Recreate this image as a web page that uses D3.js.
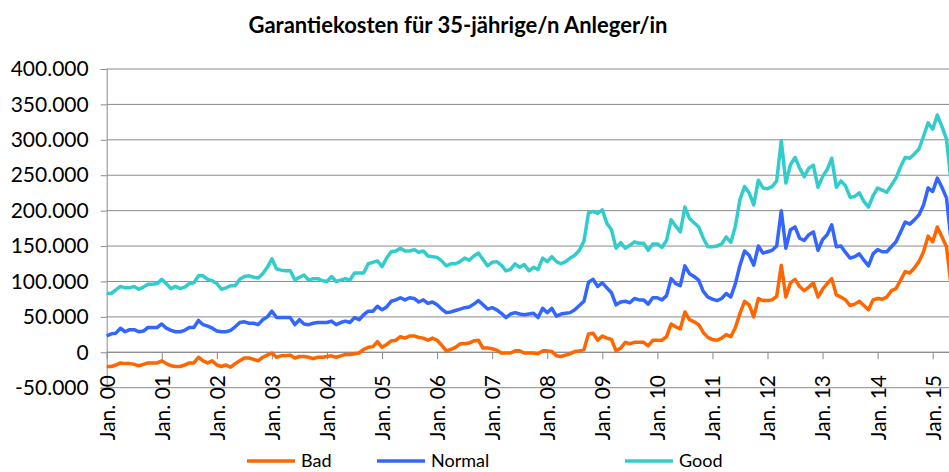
<!DOCTYPE html>
<html><head><meta charset="utf-8">
<script src="https://cdn.jsdelivr.net/npm/d3@7"></script>
<style>
html,body{margin:0;padding:0;background:#fff;}
svg{display:block;}
text{font-family:Lato,"Open Sans",sans-serif;fill:#000;}
</style></head><body>
<svg id="chart" width="949" height="472"></svg>
<script>
const chartTitle = "Garantiekosten für 35-jährige/n Anleger/in";
const seriesNames = ["Bad", "Normal", "Good"];
const seriesColors = ["#FF6600", "#3366FF", "#33CCCC"];
const yTicks = [-50, 0, 50, 100, 150, 200, 250, 300, 350, 400]; // thousands
const xTickIndex = [0, 12, 24, 36, 48, 60, 72, 84, 96, 108, 120, 132, 144, 156, 168, 180];
const xTickLabels = ["Jan. 00","Jan. 01","Jan. 02","Jan. 03","Jan. 04","Jan. 05","Jan. 06","Jan. 07",
                     "Jan. 08","Jan. 09","Jan. 10","Jan. 11","Jan. 12","Jan. 13","Jan. 14","Jan. 15"];

// monthly values in thousands, Jan 2000 .. May 2015
const bad = [
 -20,-20,-18,-15,-16,-16,-17,-19,-17,-15,-15,-15,
 -12,-16,-19,-20,-20,-18,-15,-15,-7,-12,-15,-12,
 -18,-20,-18,-21,-16,-12,-8,-8,-10,-12,-7,-4,
 -1,-7,-5,-5,-4,-8,-6,-6,-7,-9,-7,-7,
 -6,-5,-7,-5,-3,-3,-2,-1,4,7,8,15,
 7,11,16,17,22,20,23,23,21,20,17,20,
 17,10,2,4,7,12,12,13,16,17,6,6,
 5,3,-1,-1,-1,2,2,-1,-1,-1,-2,2,
 2,1,-5,-6,-4,-2,1,2,4,26,27,17,
 23,20,18,2,6,14,12,14,14,14,9,17,
 17,17,22,40,36,33,57,46,43,39,28,21,
 18,17,20,25,22,35,55,72,67,50,76,73,
 73,74,79,123,78,98,103,93,87,92,98,78,
 89,97,104,81,78,74,66,68,72,66,60,74,
 76,75,78,87,90,102,114,112,119,128,142,164,
 156,177,163,149,95];
const normal = [
 23,26,27,34,29,32,32,29,30,35,35,35,
 40,34,31,29,29,31,35,35,45,39,37,34,
 30,29,29,31,36,42,43,41,41,39,46,50,
 58,49,49,49,49,39,46,40,39,41,42,42,
 42,44,39,42,44,42,49,46,53,58,58,65,
 60,64,72,74,77,74,77,76,71,74,69,71,
 67,61,56,57,59,61,63,64,68,73,67,61,
 63,60,55,49,54,56,54,53,54,55,49,62,
 56,62,51,54,55,56,60,66,72,99,103,93,
 98,91,84,67,71,72,70,76,74,74,68,77,
 77,74,80,104,97,94,122,111,107,102,86,78,
 75,73,76,83,78,97,123,143,137,123,150,140,
 142,144,150,200,147,173,177,161,158,166,170,144,
 159,166,180,149,150,141,133,135,139,130,122,139,
 145,142,142,149,156,170,184,181,187,194,208,232,
 227,246,233,218,158];
const good = [
 83,83,88,93,91,91,93,89,92,96,96,97,
 103,97,90,93,90,92,97,98,108,108,103,101,
 97,89,91,94,94,103,107,108,106,105,111,120,
 132,118,116,115,115,102,106,109,102,104,104,101,
 100,107,100,102,104,102,112,112,112,125,127,129,
 121,133,142,143,147,143,143,145,141,143,136,135,
 134,129,122,125,125,128,133,130,136,140,131,122,
 127,128,123,115,117,125,120,124,115,120,117,133,
 128,135,128,125,128,133,137,144,157,197,199,196,
 201,182,173,147,155,147,151,156,154,154,144,153,
 153,148,158,187,178,170,205,189,183,177,161,149,
 149,150,153,163,155,178,216,234,225,208,243,232,
 231,234,242,299,239,265,275,260,248,260,264,233,
 248,258,274,233,242,235,219,220,225,213,205,221,
 232,229,226,236,246,262,275,274,280,287,305,324,
 315,335,319,301,240];

const seriesData = [bad, normal, good];

const svg = d3.select("#chart");
const plotLeft = 106.7, plotTop = 69, plotBottom = 387.7;
const x = d3.scaleLinear().domain([0, bad.length - 1]).range([plotLeft, plotLeft + (bad.length - 1) * 4.589]);
const y = d3.scaleLinear().domain([-50, 400]).range([plotBottom, plotTop]);
const plotRight = x.range()[1] + 4;

const de = d3.formatLocale({decimal: ",", thousands: ".", grouping: [3], currency: ["", "€"], minus: "-"});
const fmt = v => v === 0 ? "0" : de.format(",")(v * 1000);

// title
svg.append("text").attr("x", 458).attr("y", 33).attr("text-anchor", "middle")
  .style("font-weight", "bold").style("font-size", "22px").text(chartTitle);

// gridlines
svg.append("g").selectAll("line").data(yTicks).join("line")
  .attr("x1", plotLeft).attr("x2", plotRight).attr("y1", d => y(d)).attr("y2", d => y(d))
  .attr("stroke", "#8a8a8a").attr("stroke-width", 1);

// y axis
const yAxis = svg.append("g").attr("transform", `translate(${plotLeft},0)`)
  .call(d3.axisLeft(y).tickValues(yTicks).tickFormat(fmt).tickSize(6).tickPadding(12));
yAxis.select(".domain").attr("stroke", "#8a8a8a");
yAxis.selectAll(".tick line").attr("stroke", "#8a8a8a");
yAxis.selectAll("text").style("font-size", "21px").style("font-family", "Lato").attr("fill", "#000");

// x axis at zero
const xAxis = svg.append("g").attr("transform", `translate(0,${y(0)})`)
  .call(d3.axisBottom(x).tickValues(xTickIndex).tickFormat((d, i) => xTickLabels[i]).tickSize(7).tickSizeOuter(0));
xAxis.select(".domain").attr("stroke", "#8a8a8a").attr("d", `M${plotLeft},0H${plotRight}`);
xAxis.selectAll(".tick line").attr("stroke", "#8a8a8a");
xAxis.selectAll("text")
  .attr("transform", `translate(0,${375 - y(0)}) rotate(-90)`)
  .attr("x", 0).attr("y", 0).attr("dy", "0.35em")
  .attr("text-anchor", "end")
  .style("font-size", "21px").style("font-family", "Lato").attr("fill", "#000");

// lines
const line = d3.line().x((d, i) => x(i)).y(d => y(d)).curve(d3.curveLinear);
svg.append("g").selectAll("path").data(seriesData).join("path")
  .attr("d", d => line(d)).attr("fill", "none")
  .attr("stroke", (d, i) => seriesColors[i]).attr("stroke-width", 3.5)
  .attr("stroke-linejoin", "round").attr("stroke-linecap", "butt");

// legend
const legendX = [247, 377, 625];
const lg = svg.append("g").selectAll("g").data(seriesNames).join("g")
  .attr("transform", (d, i) => `translate(${legendX[i]},461)`);
lg.append("line").attr("x1", 0).attr("x2", 48).attr("y1", 0).attr("y2", 0)
  .attr("stroke", (d, i) => seriesColors[i]).attr("stroke-width", 3.5);
lg.append("text").attr("x", 54).attr("dy", "0.35em").style("font-size", "18px").text(d => d);
</script>
</body></html>
